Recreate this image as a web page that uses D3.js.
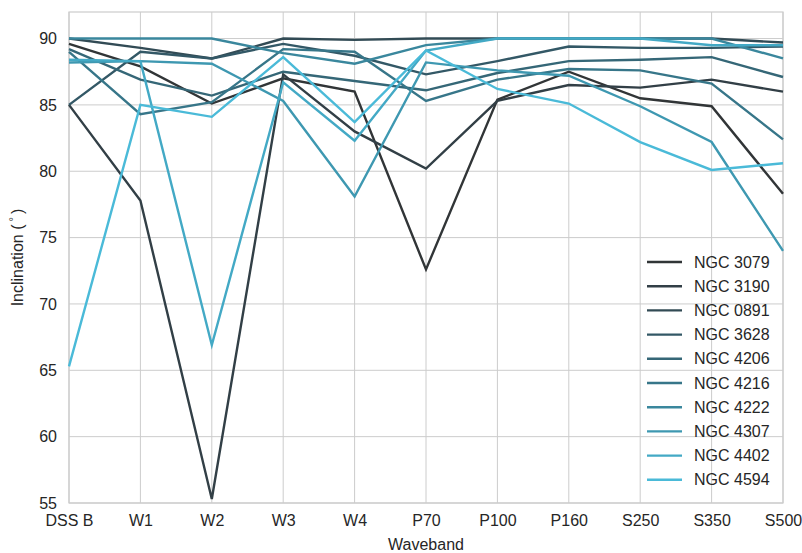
<!DOCTYPE html>
<html>
<head>
<meta charset="utf-8">
<script src="https://cdn.jsdelivr.net/npm/d3@7"></script>
<style>
  html, body { margin: 0; padding: 0; background: #ffffff; }
  svg { display: block; }
  text { font-family: "Liberation Sans", Arial, "DejaVu Sans", sans-serif; fill: #262626; }
</style>
</head>
<body>
<svg id="chart" width="802" height="553"></svg>
<script>
// Wavebands along the x axis
const wavebands = ["DSS B", "W1", "W2", "W3", "W4", "P70", "P100", "P160", "S250", "S350", "S500"];

// Galaxy names, in legend order
const galaxies = ["NGC 3079", "NGC 3190", "NGC 0891", "NGC 3628", "NGC 4206",
                  "NGC 4216", "NGC 4222", "NGC 4307", "NGC 4402", "NGC 4594"];

// Fitted inclination (degrees) per waveband, one array per galaxy
const ngc3079 = [89.6, 87.9, 85.1, 87.0, 86.0, 72.6, 85.4, 87.5, 85.5, 84.9, 78.3];
const ngc3190 = [85.0, 77.8, 55.3, 87.3, 83.0, 80.2, 85.3, 86.5, 86.3, 86.9, 86.0];
const ngc0891 = [90.0, 89.3, 88.5, 90.0, 89.9, 90.0, 90.0, 90.0, 90.0, 90.0, 89.7];
const ngc3628 = [85.0, 89.0, 88.5, 89.6, 88.7, 87.3, 88.3, 89.4, 89.3, 89.3, 89.4];
const ngc4206 = [89.2, 86.9, 85.7, 87.5, 86.8, 86.1, 87.4, 88.3, 88.4, 88.6, 87.1];
const ngc4216 = [89.0, 84.3, 85.2, 89.2, 89.0, 85.3, 86.9, 87.7, 87.6, 86.6, 82.4];
const ngc4222 = [90.0, 90.0, 90.0, 88.9, 88.1, 89.5, 90.0, 90.0, 90.0, 90.0, 88.5];
const ngc4307 = [88.2, 88.3, 88.1, 85.3, 78.1, 88.2, 87.6, 87.2, 84.9, 82.2, 74.0];
const ngc4402 = [88.4, 88.3, 66.9, 86.7, 82.3, 89.1, 90.0, 90.0, 90.0, 89.5, 89.5];
const ngc4594 = [65.3, 85.0, 84.1, 88.6, 83.7, 89.1, 86.2, 85.1, 82.2, 80.1, 80.6];

// Y axis ticks
const yTicks = [55, 60, 65, 70, 75, 80, 85, 90];

const seriesValues = [ngc3079, ngc3190, ngc0891, ngc3628, ngc4206,
                      ngc4216, ngc4222, ngc4307, ngc4402, ngc4594];

// Dark-to-cyan sequential palette
const palette = ["#313537", "#323f46", "#324b55", "#335866", "#356777",
                 "#377689", "#3a879d", "#3e98b1", "#43a9c5", "#4abad8"];

const series = galaxies.map((name, i) => ({
  name,
  color: palette[i],
  points: wavebands.map((b, j) => ({ band: b, value: seriesValues[i][j] }))
}));

const svg = d3.select("#chart");
const margin = { top: 12, right: 19, bottom: 50, left: 69 };
const width = 802 - margin.left - margin.right;
const height = 553 - margin.top - margin.bottom;

const x = d3.scalePoint().domain(wavebands).range([0, width]);
const y = d3.scaleLinear().domain([55, 92]).range([height, 0]);

const g = svg.append("g").attr("transform", `translate(${margin.left},${margin.top})`);

// Grid lines
g.append("g")
  .selectAll("line.vgrid")
  .data(wavebands)
  .join("line")
  .attr("x1", d => x(d)).attr("x2", d => x(d))
  .attr("y1", 0).attr("y2", height)
  .attr("stroke", "#cccccc").attr("stroke-width", 1);

g.append("g")
  .selectAll("line.hgrid")
  .data(yTicks)
  .join("line")
  .attr("x1", 0).attr("x2", width)
  .attr("y1", d => y(d)).attr("y2", d => y(d))
  .attr("stroke", "#cccccc").attr("stroke-width", 1);

// Axes frame
g.append("rect")
  .attr("x", 0).attr("y", 0).attr("width", width).attr("height", height)
  .attr("fill", "none").attr("stroke", "#cccccc").attr("stroke-width", 1.2);

// Axes (tick labels only)
const xAxis = g.append("g")
  .attr("transform", `translate(0,${height})`)
  .call(d3.axisBottom(x).tickSize(0).tickPadding(12));
const yAxis = g.append("g")
  .call(d3.axisLeft(y).tickValues(yTicks).tickSize(0).tickPadding(12));
[xAxis, yAxis].forEach(ax => {
  ax.select(".domain").remove();
  ax.selectAll("text").style("font-size", "16px").attr("fill", "#262626")
    .style("font-family", "'Liberation Sans', Arial, sans-serif");
});

// Series lines
const line = d3.line().x(d => x(d.band)).y(d => y(d.value));
g.append("g")
  .selectAll("path")
  .data(series)
  .join("path")
  .attr("d", d => line(d.points))
  .attr("fill", "none")
  .attr("stroke", d => d.color)
  .attr("stroke-width", 2.4)
  .attr("stroke-linejoin", "miter")
  .attr("stroke-linecap", "butt");

// Axis titles
svg.append("text")
  .attr("x", margin.left + width / 2).attr("y", 550)
  .attr("text-anchor", "middle").style("font-size", "16px")
  .text("Waveband");

const yTitle = svg.append("text")
  .attr("transform", `translate(23,${margin.top + height / 2}) rotate(-90)`)
  .attr("text-anchor", "middle").style("font-size", "16px");
yTitle.append("tspan").text("Inclination (");
yTitle.append("tspan").attr("dy", -6).style("font-size", "11px").text(" ° ");
yTitle.append("tspan").attr("dy", 6).text(")");

// Legend
const legend = svg.append("g").attr("transform", "translate(647,262)");
const rows = legend.selectAll("g")
  .data(series)
  .join("g")
  .attr("transform", (d, i) => `translate(0,${i * 24.2})`);
rows.append("line")
  .attr("x1", 0).attr("x2", 35).attr("y1", 0).attr("y2", 0)
  .attr("stroke", d => d.color).attr("stroke-width", 2.4);
rows.append("text")
  .attr("x", 47).attr("y", 0).attr("dy", "0.35em")
  .style("font-size", "16px")
  .text(d => d.name);
</script>
</body>
</html>
